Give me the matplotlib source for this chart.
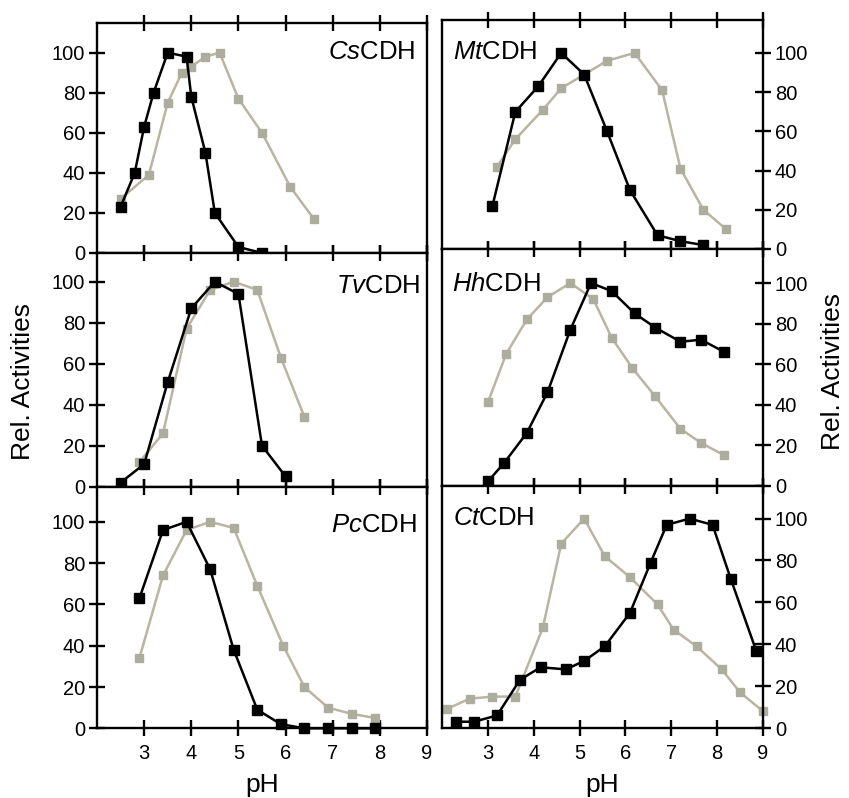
import matplotlib
matplotlib.use("Agg")
import matplotlib.pyplot as plt

plt.rcParams['font.family'] = ['Liberation Sans', 'DejaVu Sans']
plt.rcParams['mathtext.fontset'] = 'custom'
plt.rcParams['mathtext.rm'] = 'Liberation Sans'
plt.rcParams['mathtext.it'] = 'Liberation Sans:italic'

# ---- data ----
names = ['Cs', 'Mt', 'Tv', 'Hh', 'Pc', 'Ct']

cs_black_ph = [2.5, 2.8, 3.0, 3.2, 3.5, 3.9, 4.0, 4.3, 4.5, 5.0, 5.5]
cs_black_v = [23, 40, 63, 80, 100, 98, 78, 50, 20, 3, 0]
cs_gray_ph = [2.5, 3.1, 3.5, 3.8, 4.0, 4.3, 4.6, 5.0, 5.5, 6.1, 6.6]
cs_gray_v = [27, 39, 75, 90, 93, 98, 100, 77, 60, 33, 17]

mt_black_ph = [3.1, 3.6, 4.1, 4.6, 5.1, 5.6, 6.1, 6.7, 7.2, 7.7]
mt_black_v = [22, 70, 83, 100, 89, 60, 30, 7, 4, 2]
mt_gray_ph = [3.2, 3.6, 4.2, 4.6, 5.1, 5.6, 6.2, 6.8, 7.2, 7.7, 8.2]
mt_gray_v = [42, 56, 71, 82, 89, 96, 100, 81, 41, 20, 10]

tv_black_ph = [2.5, 3.0, 3.5, 4.0, 4.5, 5.0, 5.5, 6.0]
tv_black_v = [2, 11, 51, 87, 100, 94, 20, 5]
tv_gray_ph = [2.9, 3.4, 3.9, 4.4, 4.9, 5.4, 5.9, 6.4]
tv_gray_v = [12, 26, 77, 96, 100, 96, 63, 34]

hh_black_ph = [3.0, 3.35, 3.85, 4.3, 4.8, 5.25, 5.7, 6.2, 6.65, 7.2, 7.65, 8.15]
hh_black_v = [2, 11, 26, 46, 77, 100, 96, 85, 78, 71, 72, 66]
hh_gray_ph = [3.0, 3.4, 3.85, 4.3, 4.8, 5.3, 5.7, 6.15, 6.65, 7.2, 7.65, 8.15]
hh_gray_v = [41, 65, 82, 93, 100, 92, 73, 58, 44, 28, 21, 15]

pc_black_ph = [2.9, 3.4, 3.9, 4.4, 4.9, 5.4, 5.9, 6.4, 6.9, 7.4, 7.9]
pc_black_v = [63, 96, 100, 77, 38, 9, 2, 0, 0, 0, 0]
pc_gray_ph = [2.9, 3.4, 3.9, 4.4, 4.9, 5.4, 5.95, 6.4, 6.9, 7.4, 7.9]
pc_gray_v = [34, 74, 96, 100, 97, 69, 40, 20, 10, 7, 5]

ct_black_ph = [2.3, 2.7, 3.2, 3.7, 4.15, 4.7, 5.1, 5.55, 6.1, 6.55, 6.9, 7.4, 7.9, 8.3, 8.85]
ct_black_v = [3, 3, 6, 23, 29, 28, 32, 39, 55, 79, 97, 100, 97, 71, 37]
ct_gray_ph = [2.1, 2.6, 3.1, 3.6, 4.2, 4.6, 5.1, 5.55, 6.1, 6.7, 7.05, 7.55, 8.1, 8.5, 9.0]
ct_gray_v = [9, 14, 15, 15, 48, 88, 100, 82, 72, 59, 47, 39, 28, 17, 8]

x_ticks = [3, 4, 5, 6, 7, 8, 9]
y_ticks = [0, 20, 40, 60, 80, 100]
ylabel = 'Rel. Activities'
xlabel = 'pH'

series = {
    'Cs': (cs_black_ph, cs_black_v, cs_gray_ph, cs_gray_v),
    'Mt': (mt_black_ph, mt_black_v, mt_gray_ph, mt_gray_v),
    'Tv': (tv_black_ph, tv_black_v, tv_gray_ph, tv_gray_v),
    'Hh': (hh_black_ph, hh_black_v, hh_gray_ph, hh_gray_v),
    'Pc': (pc_black_ph, pc_black_v, pc_gray_ph, pc_gray_v),
    'Ct': (ct_black_ph, ct_black_v, ct_gray_ph, ct_gray_v),
}

# ---- layout (pixels) ----
W, H = 849, 798
fig = plt.figure(figsize=(W / 100, H / 100), dpi=100)

def px_rect(x0, x1, y0, y1):
    return [x0 / W, 1 - y1 / H, (x1 - x0) / W, (y1 - y0) / H]

left_rows = [(23, 253, 114.8), (253, 486.7, 114.0), (486.7, 728.3, 117.0)]
right_rows = [(20, 249, 116.8), (249, 485.5, 116.8), (485.5, 728, 115.8)]
label_pos = {
    'Cs': (0.964, 0.843, 'right'), 'Tv': (0.979, 0.829, 'right'), 'Pc': (0.970, 0.814, 'right'),
    'Mt': (0.034, 0.829, 'left'), 'Hh': (0.031, 0.823, 'left'), 'Ct': (0.034, 0.839, 'left'),
}

gray_marker = '#acad9c'
gray_line = '#bab4a0'
tick_fs = 14.5
lab_fs = 18.5
lw = 1.8

for i, name in enumerate(names):
    row = i // 2
    col = i % 2
    if col == 0:
        y0, y1, ytop = left_rows[row]
        ax = fig.add_axes(px_rect(97, 427, y0, y1))
    else:
        y0, y1, ytop = right_rows[row]
        ax = fig.add_axes(px_rect(442, 763, y0, y1))
    bx, bv, gx, gv = series[name]
    ax.plot(gx, gv, color=gray_line, lw=lw, marker='s', ms=6.4,
            mfc=gray_marker, mec=gray_marker, zorder=3, clip_on=False)
    ax.plot(bx, bv, color='black', lw=lw, marker='s', ms=7.4,
            mfc='black', mec='black', zorder=4, clip_on=False)
    ax.set_xlim(2, 9)
    ax.set_ylim(0, ytop)
    ax.set_xticks(x_ticks)
    ax.set_yticks(y_ticks)
    for sp in ax.spines.values():
        sp.set_linewidth(1.7)
        sp.set_zorder(5)
    ax.tick_params(axis='x', which='both', direction='inout', length=11, width=1.7,
                   top=True, bottom=True, labelbottom=(row == 2), labelsize=tick_fs, pad=6)
    if col == 0:
        ax.tick_params(axis='y', direction='inout', length=11, width=1.7,
                       left=True, right=False, labelleft=True, labelright=False,
                       labelsize=tick_fs, pad=3)
    else:
        ax.tick_params(axis='y', direction='inout', length=11, width=1.7,
                       left=False, right=True, labelleft=False, labelright=True,
                       labelsize=tick_fs, pad=3)
    lx, ly, ha = label_pos[name]
    ax.text(lx, ly, r'$\mathit{' + name + r'}$CDH', transform=ax.transAxes,
            ha=ha, va='baseline', fontsize=lab_fs, zorder=6)

fig.text(23 / W, 1 - 381 / H, ylabel, rotation=90, ha='center', va='center', fontsize=19)
fig.text(833 / W, 1 - 372 / H, ylabel, rotation=90, ha='center', va='center', fontsize=19)
fig.text(262 / W, 1 - 797 / H, xlabel, ha='center', va='bottom', fontsize=19)
fig.text(602 / W, 1 - 797 / H, xlabel, ha='center', va='bottom', fontsize=19)

fig.savefig('out.png', dpi=100)
